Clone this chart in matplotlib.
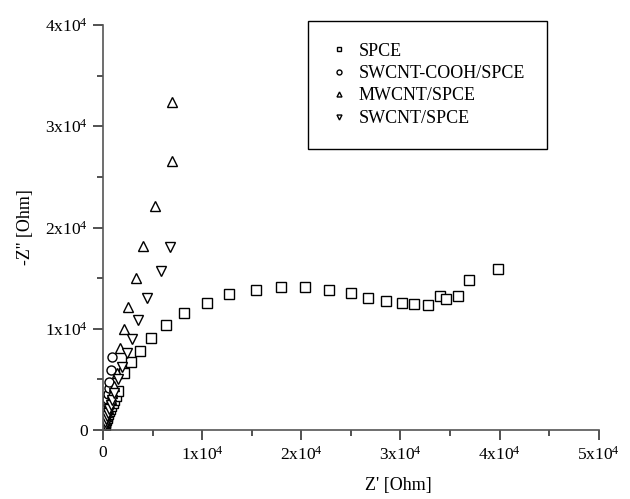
import matplotlib
matplotlib.use('Agg')
import matplotlib.pyplot as plt
from matplotlib.ticker import MultipleLocator, FuncFormatter

plt.rcParams['font.family'] = ['Liberation Serif', 'DejaVu Serif']
plt.rcParams['mathtext.fontset'] = 'custom'
plt.rcParams['mathtext.rm'] = 'Liberation Serif'
plt.rcParams['mathtext.it'] = 'Liberation Serif'

# Nyquist data, Z' and -Z'' in Ohm
spce_x = [50, 80, 120, 160, 200, 250, 300, 360, 420, 500, 600, 700, 820, 960, 1120,
          1300, 1500, 2100, 2800, 3700, 4800, 6400, 8200, 10500, 12700, 15400, 18000,
          20400, 22800, 25000, 26700, 28500, 30200, 31400, 32800, 34000, 34600, 35800,
          36900, 39800]
spce_y = [100, 250, 400, 550, 700, 850, 1000, 1200, 1400, 1600, 1850, 2100, 2400, 2700,
          3000, 3400, 3900, 5600, 6700, 7800, 9100, 10400, 11600, 12600, 13400, 13800,
          14100, 14100, 13800, 13500, 13000, 12700, 12600, 12500, 12400, 13200, 12900,
          13200, 14800, 15900]

cooh_x = [20, 40, 60, 90, 120, 160, 200, 250, 300, 360, 420, 480, 560, 650, 760, 900]
cooh_y = [50, 200, 400, 650, 900, 1200, 1500, 1850, 2200, 2650, 3100, 3600, 4200, 4800,
          5900, 7200]

mw_x = [40, 80, 130, 180, 250, 330, 420, 520, 640, 780, 950, 1150, 1400, 1700, 2100,
        2500, 3300, 4000, 5200, 7000, 7000]
mw_y = [100, 300, 550, 800, 1100, 1400, 1800, 2200, 2650, 3100, 3700, 4400, 5600, 8100,
        10000, 12200, 15000, 18200, 22100, 26600, 32400]

sw_x = [50, 100, 160, 230, 310, 400, 500, 620, 760, 920, 1150, 1500, 1900, 2400, 2900,
        3500, 4400, 5800, 6800]
sw_y = [100, 300, 550, 800, 1100, 1400, 1700, 2100, 2500, 3000, 3700, 5000, 6200, 7600,
        9000, 10900, 13000, 15700, 18100]

labels = ['SPCE', 'SWCNT-COOH/SPCE', 'MWCNT/SPCE', 'SWCNT/SPCE']

fig = plt.figure(figsize=(6.3, 4.99), dpi=100)
ax = fig.add_axes([0.1635, 0.138, 0.787, 0.812])

kw = dict(linestyle='none', markerfacecolor='white', markeredgecolor='black',
          markeredgewidth=1.0, markersize=6.5)
ax.plot(spce_x, spce_y, marker='s', label=labels[0], **kw)
ax.plot(cooh_x, cooh_y, marker='o', label=labels[1], **kw)
ax.plot(mw_x, mw_y, marker='^', label=labels[2], **kw)
ax.plot(sw_x, sw_y, marker='v', label=labels[3], **kw)

ax.set_xlim(0, 50000)
ax.set_ylim(0, 40000)
ax.spines['top'].set_visible(False)
ax.spines['right'].set_visible(False)
for s in ('left', 'bottom'):
    ax.spines[s].set_color('#555555')
    ax.spines[s].set_linewidth(1.2)

def sci(v, pos):
    n = int(round(v / 10000))
    if n == 0:
        return '0'
    return r'%dx10$^{4}$' % n

ax.xaxis.set_major_locator(MultipleLocator(10000))
ax.xaxis.set_minor_locator(MultipleLocator(5000))
ax.yaxis.set_major_locator(MultipleLocator(10000))
ax.yaxis.set_minor_locator(MultipleLocator(5000))
ax.xaxis.set_major_formatter(FuncFormatter(sci))
ax.yaxis.set_major_formatter(FuncFormatter(sci))
ax.tick_params(which='major', direction='out', length=7, width=1.2, color='#333333',
               labelsize=12.5, pad=4)
ax.tick_params(which='minor', direction='out', length=4, width=1.2, color='#333333')

ax.set_xlabel("Z' [Ohm]", fontsize=13)
ax.xaxis.set_label_coords(0.595, -0.115)
ax.set_ylabel("-Z'' [Ohm]", fontsize=13, labelpad=8)

leg = ax.legend(loc='upper left', bbox_to_anchor=(0.489, 0.958),
                bbox_transform=fig.transFigure, fontsize=13, markerscale=0.55,
                fancybox=False, framealpha=1, edgecolor='black', handlelength=1.0,
                handletextpad=0.6, labelspacing=0.3, borderpad=1.2, borderaxespad=0)
leg.get_frame().set_linewidth(1.0)

fig.savefig('out.png', dpi=100)
